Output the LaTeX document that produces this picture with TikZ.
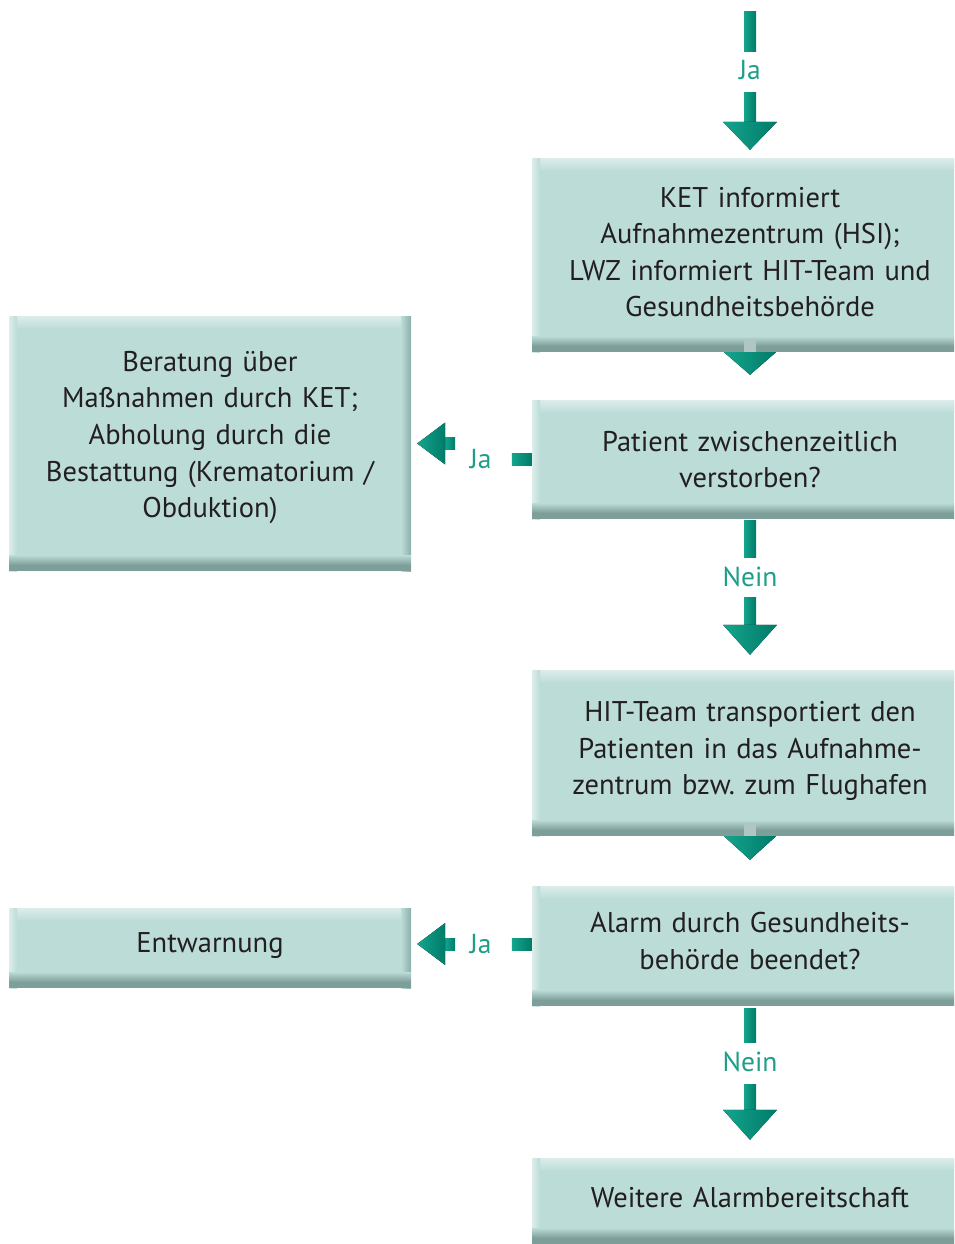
\documentclass[tikz,border=0pt]{standalone}
\usepackage{fontspec}
\setmainfont{PT Sans}
\frenchspacing
\usetikzlibrary{calc}
\definecolor{boxfill}{HTML}{BCDCD8}
\definecolor{boxhi}{HTML}{DCEDEA}
\definecolor{boxlo}{HTML}{7E9E9A}
\definecolor{boxside}{HTML}{8EAEAA}
\definecolor{arrlight}{HTML}{14A58C}
\definecolor{arrdark}{HTML}{007A69}
\definecolor{labc}{HTML}{1E9E88}
\definecolor{textc}{HTML}{231F20}
\tikzset{
  box/.style={rectangle, fill=boxfill, inner sep=0pt,
    path picture={
      \foreach \i in {0,...,12}{
        \pgfmathsetmacro\mypc{100-\i*100/13}
        \fill[boxhi!\mypc!boxfill]
          ($(path picture bounding box.north west)+(0,\i)$) rectangle
          ($(path picture bounding box.north east)+(0,\i+1.3)$);
      }
      \fill[left color=boxhi, right color=boxfill]
        (path picture bounding box.north west) rectangle
        ($(path picture bounding box.south west)+(8,0)$);
      \fill[left color=boxfill, right color=boxside]
        ($(path picture bounding box.north east)+(-10,0)$) rectangle
        (path picture bounding box.south east);
      \foreach \i in {0,...,9}{
        \pgfmathsetmacro\mypc{100-\i*10}
        \fill[boxfill!\mypc!boxlo]
          ($(path picture bounding box.south west)+(0,-16+\i)$) rectangle
          ($(path picture bounding box.south east)+(0,-14.7+\i)$);
      }
      \fill[boxlo]
        ($(path picture bounding box.south west)+(0,-6)$) rectangle
        (path picture bounding box.south east);
    }},
  rbox/.style={box, minimum width=436pt},
  lbox/.style={box, minimum width=402pt},
  txt/.style={align=center, text width=420pt, inner sep=0pt,
    font=\fontsize{28.5}{36.6}\selectfont, text=textc},
  arr/.style={left color=arrlight, right color=arrdark},
  lab/.style={text=labc, font=\fontsize{27.5}{30}\selectfont, inner sep=0pt}
}
\begin{document}
\begin{tikzpicture}[x=1pt,y=-1pt]
\path[use as bounding box] (0,0) rectangle (954,1244);
\clip (0,0) rectangle (954,1244);

% boxes
\node[rbox, minimum height=194pt] (b1) at (750,255) {};
\node[rbox, minimum height=119pt] (b2) at (750,459.5) {};
\node[rbox, minimum height=166pt] (b3) at (750,753) {};
\node[rbox, minimum height=120pt] (b4) at (750,946) {};
\node[rbox, minimum height=86pt] (b5) at (750,1201) {};
\node[lbox, minimum height=255pt] (l1) at (210,443.5) {};
\node[lbox, minimum height=80pt] (l2) at (210,948) {};

% texts
\node[txt] (t1) at ($(b1.center)+(0,-3)$) {KET informiert\\Aufnahmezentrum (HSI);\\LWZ informiert HIT-Team und\\Gesundheitsbehörde};
\node[txt] (t2) at ($(b2.center)+(0,0)$) {Patient zwischenzeitlich\\verstorben?};
\node[txt] (t3) at ($(b3.center)+(0,-2)$) {HIT-Team transportiert den\\Patienten in das Aufnahme-\\zentrum bzw. zum Flughafen};
\node[txt] (t4) at ($(b4.center)+(0,-5)$) {Alarm durch Gesundheits-\\behörde beendet?};
\node[txt] (t5) at ($(b5.center)+(0,-3)$) {Weitere Alarmbereitschaft};
\node[txt] (t6) at ($(l1.center)+(0,-6)$) {Beratung über\\Maßnahmen durch KET;\\Abholung durch die\\Bestattung (Krematorium /\\Obduktion)};
\node[txt] (t7) at ($(l2.center)+(0,-2)$) {Entwarnung};

% top connector
\coordinate (c0) at (750,12);
\fill[arr] ($(c0)+(-6,0)$) rectangle ($(c0)+(6,40)$);
\node[lab] (j0) at ($(c0)+(0,58)$) {Ja};
\fill[arr] ($(b1.north)+(-6,-65)$) rectangle ($(b1.north)+(6,-36)$);
\fill[arr] ($(b1.north)+(-27,-36)$) -- ($(b1.north)+(27,-36)$) -- ($(b1.north)+(0,-8)$) -- cycle;

% b1 -> b2
\fill[boxside!70!white] ($(b1.south)+(-6,-12)$) rectangle ($(b1.south)+(6,0)$);
\fill[arr] ($(b1.south)+(-26,0)$) -- ($(b1.south)+(26,0)$) -- ($(b2.north)+(0,-25)$) -- cycle;

% b2 -> b3 (Nein)
\fill[arr] ($(b2.south)+(-6,1)$) rectangle ($(b2.south)+(6,38)$);
\node[lab] (n1) at ($(b2.south)+(0,58)$) {Nein};
\fill[arr] ($(b3.north)+(-6,-72)$) rectangle ($(b3.north)+(6,-45)$);
\fill[arr] ($(b3.north)+(-27,-45)$) -- ($(b3.north)+(27,-45)$) -- ($(b3.north)+(0,-15)$) -- cycle;

% b3 -> b4
\fill[boxside!70!white] ($(b3.south)+(-6,-12)$) rectangle ($(b3.south)+(6,0)$);
\fill[arr] ($(b3.south)+(-26,0)$) -- ($(b3.south)+(26,0)$) -- ($(b4.north)+(0,-26)$) -- cycle;

% b4 -> b5 (Nein)
\fill[arr] ($(b4.south)+(-6,2)$) rectangle ($(b4.south)+(6,36)$);
\node[lab] (n2) at ($(b4.south)+(0,56)$) {Nein};
\fill[arr] ($(b5.north)+(-6,-73)$) rectangle ($(b5.north)+(6,-48)$);
\fill[arr] ($(b5.north)+(-27,-48)$) -- ($(b5.north)+(27,-48)$) -- ($(b5.north)+(0,-18)$) -- cycle;

% b2 -> l1 (Ja)
\fill[arr] ($(b2.west)+(-20,-6)$) rectangle ($(b2.west)+(0,6)$);
\node[lab] (j1) at ($(b2.west)+(-51,0)$) {Ja};
\fill[arr] ($(l1.east)+(34,-6)$) rectangle ($(l1.east)+(44,6)$);
\fill[arr] ($(l1.east)+(34,-21)$) -- ($(l1.east)+(34,21)$) -- ($(l1.east)+(6,0)$) -- cycle;

% b4 -> l2 (Ja)
\coordinate (w4) at ($(b4.west)+(0,-2)$);
\fill[arr] ($(w4)+(-20,-6)$) rectangle ($(w4)+(0,6)$);
\node[lab] (j2) at ($(w4)+(-51,0)$) {Ja};
\fill[arr] ($(l2.east)+(34,-10)$) rectangle ($(l2.east)+(44,2)$);
\fill[arr] ($(l2.east)+(34,-25)$) -- ($(l2.east)+(34,17)$) -- ($(l2.east)+(6,-4)$) -- cycle;
\end{tikzpicture}
\end{document}
